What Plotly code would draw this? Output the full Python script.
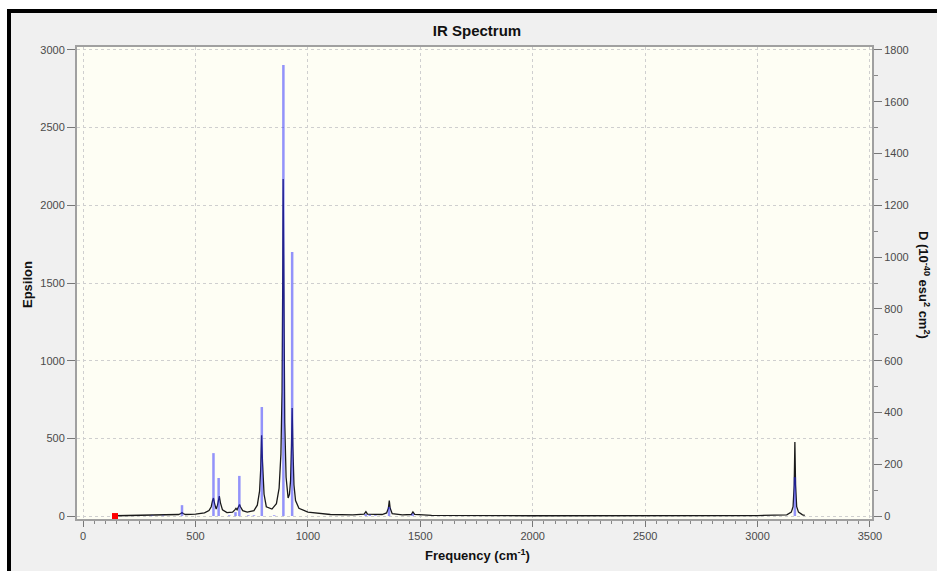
import plotly.graph_objects as go

# ---- data ----
curve_freq = [142, 300, 400, 425, 435, 440, 445, 455, 500, 540, 560, 570, 576, 580, 585, 592, 598, 603, 606, 611,
              620, 640, 665, 675, 680, 685, 690, 696, 700, 710, 730, 760, 775, 785, 790, 794, 798, 805, 815, 840,
              860, 872, 880, 885, 888, 890, 893, 897, 903, 908, 912, 918, 923, 927, 930, 933, 938, 945, 960, 1000,
              1100, 1200, 1250, 1258, 1265, 1330, 1350, 1358, 1362, 1366, 1375, 1420, 1460, 1467, 1475, 1550, 2000,
              3000, 3130, 3150, 3158, 3163, 3166, 3169, 3174, 3182, 3200, 3210]
curve_eps = [2, 4, 7, 10, 16, 22, 16, 10, 12, 20, 35, 60, 100, 116, 80, 45, 70, 125, 129, 85,
             40, 22, 25, 40, 50, 40, 55, 75, 60, 35, 25, 35, 70, 160, 300, 520, 350, 140, 60, 45,
             80, 180, 400, 800, 1500, 2170, 1500, 600, 250, 150, 116, 140, 230, 450, 695, 450, 200, 100, 50, 25,
             10, 8, 12, 28, 12, 10, 20, 50, 100, 50, 15, 8, 10, 26, 10, 4, 2,
             3, 8, 25, 60, 200, 477, 200, 60, 25, 8, 5]

stick_freq = [307, 356, 440, 580, 603, 650, 678, 695, 735, 760, 795, 850, 891, 930, 1257, 1275, 1300, 1361, 1466, 3166]
stick_D = [2, 2, 42, 243, 147, 3, 15, 155, 3, 3, 421, 3, 1742, 1020, 8, 5, 3, 35, 10, 150]

marker_freq = [142]
marker_eps = [0]

x_range = [-27, 3509]
eps_range = [-19, 3019]
d_range = [-11.4, 1811.4]

# ---- figure ----
W, H = 937, 571
L, R, T, B = 77, 65, 47, 52
pw, ph = W - L - R, H - T - B


def px(x):
    return (x - L) / pw


def py(y):
    return (H - B - y) / ph


sx, sy = [], []
for f, d in zip(stick_freq, stick_D):
    sx += [f, f, None]
    sy += [0, d, None]

fig = go.Figure()
fig.add_trace(go.Scatter(x=curve_freq, y=curve_eps, mode="lines",
                         line=dict(color="#1a1a1a", width=1.3), hoverinfo="skip"))
fig.add_trace(go.Scatter(x=sx, y=sy, mode="lines", yaxis="y2",
                         line=dict(color="rgba(40,40,255,0.5)", width=2.5), hoverinfo="skip"))
fig.add_trace(go.Scatter(x=marker_freq, y=marker_eps, mode="markers",
                         marker=dict(symbol="square", color="red", size=6), hoverinfo="skip"))

font = "Liberation Sans, Arial, sans-serif"
tickfont = dict(family=font, size=11, color="#4a4a4a")

fig.update_layout(
    width=W, height=H,
    margin=dict(l=L, r=R, t=T, b=B),
    paper_bgcolor="#F0F0F0",
    plot_bgcolor="#FEFEF4",
    showlegend=False,
    title=dict(text="<b>IR Spectrum</b>", x=(477 - L) / pw, xref="paper", xanchor="center",
               y=1 - 31 / H, yanchor="middle", font=dict(family=font, size=15, color="#111111")),
    xaxis=dict(range=x_range, tickvals=[0, 500, 1000, 1500, 2000, 2500, 3000, 3500],
               showgrid=True, gridcolor="#CFCFCF", griddash="dot", gridwidth=1,
               zeroline=False, showline=True, linecolor="#A0A0A0", linewidth=2, mirror=True,
               ticks="outside", ticklen=6, tickcolor="#777777", tickfont=tickfont,
               minor=dict(dtick=50, tick0=0, ticks="outside", ticklen=3, tickcolor="#888888", showgrid=False)),
    yaxis=dict(range=eps_range, tickvals=[0, 500, 1000, 1500, 2000, 2500, 3000],
               showgrid=True, gridcolor="#CFCFCF", griddash="dot", gridwidth=1,
               zeroline=False, showline=True, linecolor="#A0A0A0", linewidth=2,
               ticks="outside", ticklen=8, tickcolor="#777777", tickfont=tickfont),
    yaxis2=dict(range=d_range, overlaying="y", side="right",
                tickvals=[0, 200, 400, 600, 800, 1000, 1200, 1400, 1600, 1800],
                showgrid=False, zeroline=False, showline=True, linecolor="#A0A0A0", linewidth=2,
                ticks="outside", ticklen=8, tickcolor="#777777", tickfont=tickfont,
                minor=dict(dtick=100, tick0=0, ticks="outside", ticklen=4, tickcolor="#888888")),
    annotations=[
        dict(text="<b>Epsilon</b>", x=px(27), y=py(285), xref="paper", yref="paper", textangle=-90,
             xanchor="center", yanchor="middle",
             showarrow=False, font=dict(family=font, size=13, color="#111111")),
        dict(text="<b>Frequency (cm<sup>-1</sup>)</b>", x=px(477), y=py(555), xref="paper", yref="paper",
             xanchor="center", yanchor="middle",
             showarrow=False, font=dict(family=font, size=13, color="#111111")),
        dict(text="<b>D (10<sup>-40</sup> esu<sup>2</sup> cm<sup>2</sup>)</b>", x=px(924), y=py(285),
             xref="paper", yref="paper", textangle=90, xanchor="center", yanchor="middle",
             showarrow=False, font=dict(family=font, size=13, color="#111111")),
    ],
    shapes=[
        dict(type="rect", xref="paper", yref="paper", x0=px(0), x1=px(7), y0=py(H), y1=py(0),
             fillcolor="white", line=dict(width=0), layer="above"),
        dict(type="rect", xref="paper", yref="paper", x0=px(0), x1=px(W), y0=py(9), y1=py(0),
             fillcolor="white", line=dict(width=0), layer="above"),
        dict(type="rect", xref="paper", yref="paper", x0=px(7), x1=px(11), y0=py(H), y1=py(9),
             fillcolor="black", line=dict(width=0), layer="above"),
        dict(type="rect", xref="paper", yref="paper", x0=px(7), x1=px(W), y0=py(13), y1=py(9),
             fillcolor="black", line=dict(width=0), layer="above"),
    ],
)

fig.write_html("out.html", config={"displayModeBar": False},
               post_script="document.body.style.margin='0px';document.body.style.overflow='hidden';")
